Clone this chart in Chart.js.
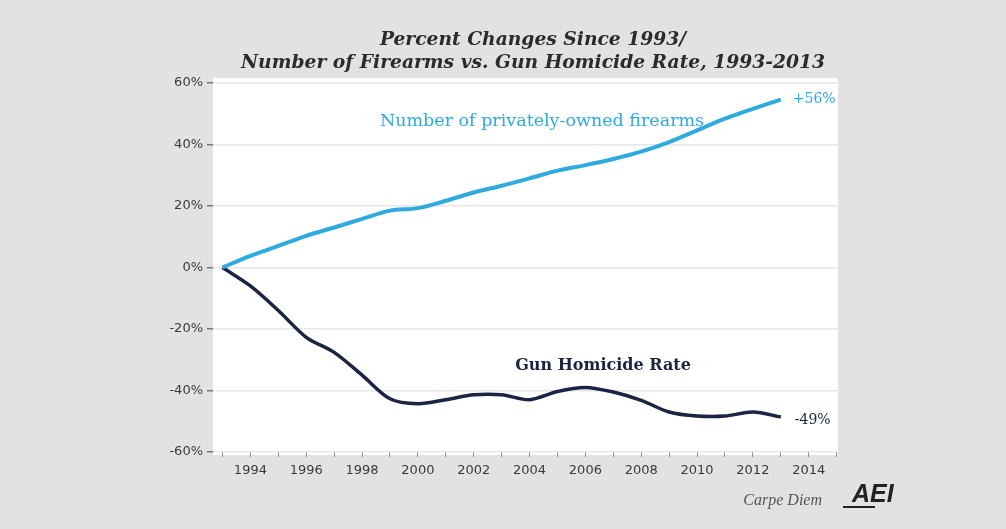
<!DOCTYPE html>
<html>
<head>
<meta charset="utf-8">
<script src="https://cdn.jsdelivr.net/npm/chart.js@4"></script>
<style>
  html, body { margin: 0; padding: 0; background: #e2e2e2; }
  #wrap { width: 1006px; height: 529px; position: relative; }
</style>
</head>
<body>
<div id="wrap"><canvas id="chart" width="1006" height="529"></canvas></div>
<script>
// data (percent change since 1993)
const years = [1993, 1994, 1995, 1996, 1997, 1998, 1999, 2000, 2001, 2002, 2003,
               2004, 2005, 2006, 2007, 2008, 2009, 2010, 2011, 2012, 2013];
const firearms = [0, 3.8, 7, 10.3, 13, 15.8, 18.5, 19.3, 21.7, 24.4, 26.6,
                  29, 31.5, 33.3, 35.3, 37.7, 40.8, 44.6, 48.4, 51.6, 54.6];
const homicide = [0, -6, -14, -22.7, -27.6, -35, -42.7, -44.3, -43, -41.4, -41.4,
                  -43, -40.3, -39, -40.5, -43.2, -47, -48.3, -48.3, -47, -48.6];
const yTicks = [-60, -40, -20, 0, 20, 40, 60];

const titleLines = ['Percent Changes Since 1993/', 'Number of Firearms vs. Gun Homicide Rate, 1993-2013'];
const blue = '#2eaadf';
const navy = '#1b2442';

const ctx = document.getElementById('chart').getContext('2d');

// white plot background + title + in-chart notes
const decorations = {
    id: 'decorations',
    beforeDraw(chart) {
        const a = chart.chartArea;
        const c = chart.ctx;
        c.save();
        c.fillStyle = '#ffffff';
        c.fillRect(a.left, a.top - 5, a.right - a.left, a.bottom - a.top + 8);
        c.restore();
    },
    afterDraw(chart) {
        const c = chart.ctx;
        const x = chart.scales.x, y = chart.scales.y;
        c.save();
        c.textAlign = 'center';
        c.textBaseline = 'middle';
        c.fillStyle = '#2b2b2b';
        c.font = 'italic bold 18.7px "DejaVu Serif", serif';
        c.fillText(titleLines[0], 533, 40);
        c.fillText(titleLines[1], 533, 63);

        c.font = '17.5px "DejaVu Serif", serif';
        c.fillStyle = blue;
        c.fillText('Number of privately-owned firearms', 542, 121);
        c.fillStyle = navy;
        c.font = 'bold 16px "DejaVu Serif", serif';
        c.fillText('Gun Homicide Rate', 603, 366);

        const last = years.length - 1;
        c.textAlign = 'left';
        c.font = '14px "DejaVu Serif", serif';
        c.fillStyle = blue;
        c.fillText('+56%', x.getPixelForValue(years[last]) + 12, y.getPixelForValue(firearms[last]));
        c.fillStyle = navy;
        c.fillText('-49%', x.getPixelForValue(years[last]) + 14, y.getPixelForValue(homicide[last]) + 3);

        c.fillStyle = '#555';
        c.font = 'italic 16px "Liberation Serif", serif';
        c.textAlign = 'right';
        c.fillText('Carpe Diem', 822, 501);
        c.fillStyle = '#222';
        c.font = 'italic bold 25px "Liberation Sans", sans-serif';
        c.textAlign = 'left';
        c.fillText('AEI', 852, 495);
        c.fillRect(843, 506, 32, 2);
        c.restore();
    }
};

new Chart(ctx, {
    type: 'line',
    data: {
        datasets: [
            {
                label: 'Number of privately-owned firearms',
                data: years.map((yr, i) => ({ x: yr, y: firearms[i] })),
                borderColor: blue,
                borderWidth: 4,
                pointRadius: 0,
                tension: 0.3
            },
            {
                label: 'Gun Homicide Rate',
                data: years.map((yr, i) => ({ x: yr, y: homicide[i] })),
                borderColor: navy,
                borderWidth: 3.5,
                pointRadius: 0,
                tension: 0.3
            }
        ]
    },
    plugins: [decorations],
    options: {
        responsive: false,
        animation: false,
        layout: { padding: { top: 83, right: 168, left: 0, bottom: 0 } },
        plugins: {
            legend: { display: false },
            tooltip: { enabled: false }
        },
        scales: {
            x: {
                type: 'linear',
                min: 1992.66,
                max: 2015.05,
                afterFit: (s) => { s.height = 77; },
                afterBuildTicks: (s) => {
                    s.ticks = [];
                    for (let yr = 1993; yr <= 2015; yr++) s.ticks.push({ value: yr });
                },
                border: { display: false },
                grid: { drawOnChartArea: false, tickLength: 5, tickColor: '#888' },
                ticks: {
                    autoSkip: false,
                    maxRotation: 0,
                    padding: 6,
                    color: '#3a3a3a',
                    font: { family: '"DejaVu Sans", sans-serif', size: 13 },
                    callback: (v) => (v % 2 === 0 ? String(v) : '')
                }
            },
            y: {
                min: -60,
                max: 60,
                afterFit: (s) => { s.width = 213; },
                afterBuildTicks: (s) => { s.ticks = yTicks.map(v => ({ value: v })); },
                border: { display: false },
                grid: { color: '#e6e6e6', lineWidth: 1.5, tickLength: 6, tickColor: '#777' },
                ticks: {
                    padding: 4,
                    color: '#3a3a3a',
                    font: { family: '"DejaVu Sans", sans-serif', size: 13 },
                    callback: (v) => v + '%'
                }
            }
        }
    }
});
</script>
</body>
</html>
